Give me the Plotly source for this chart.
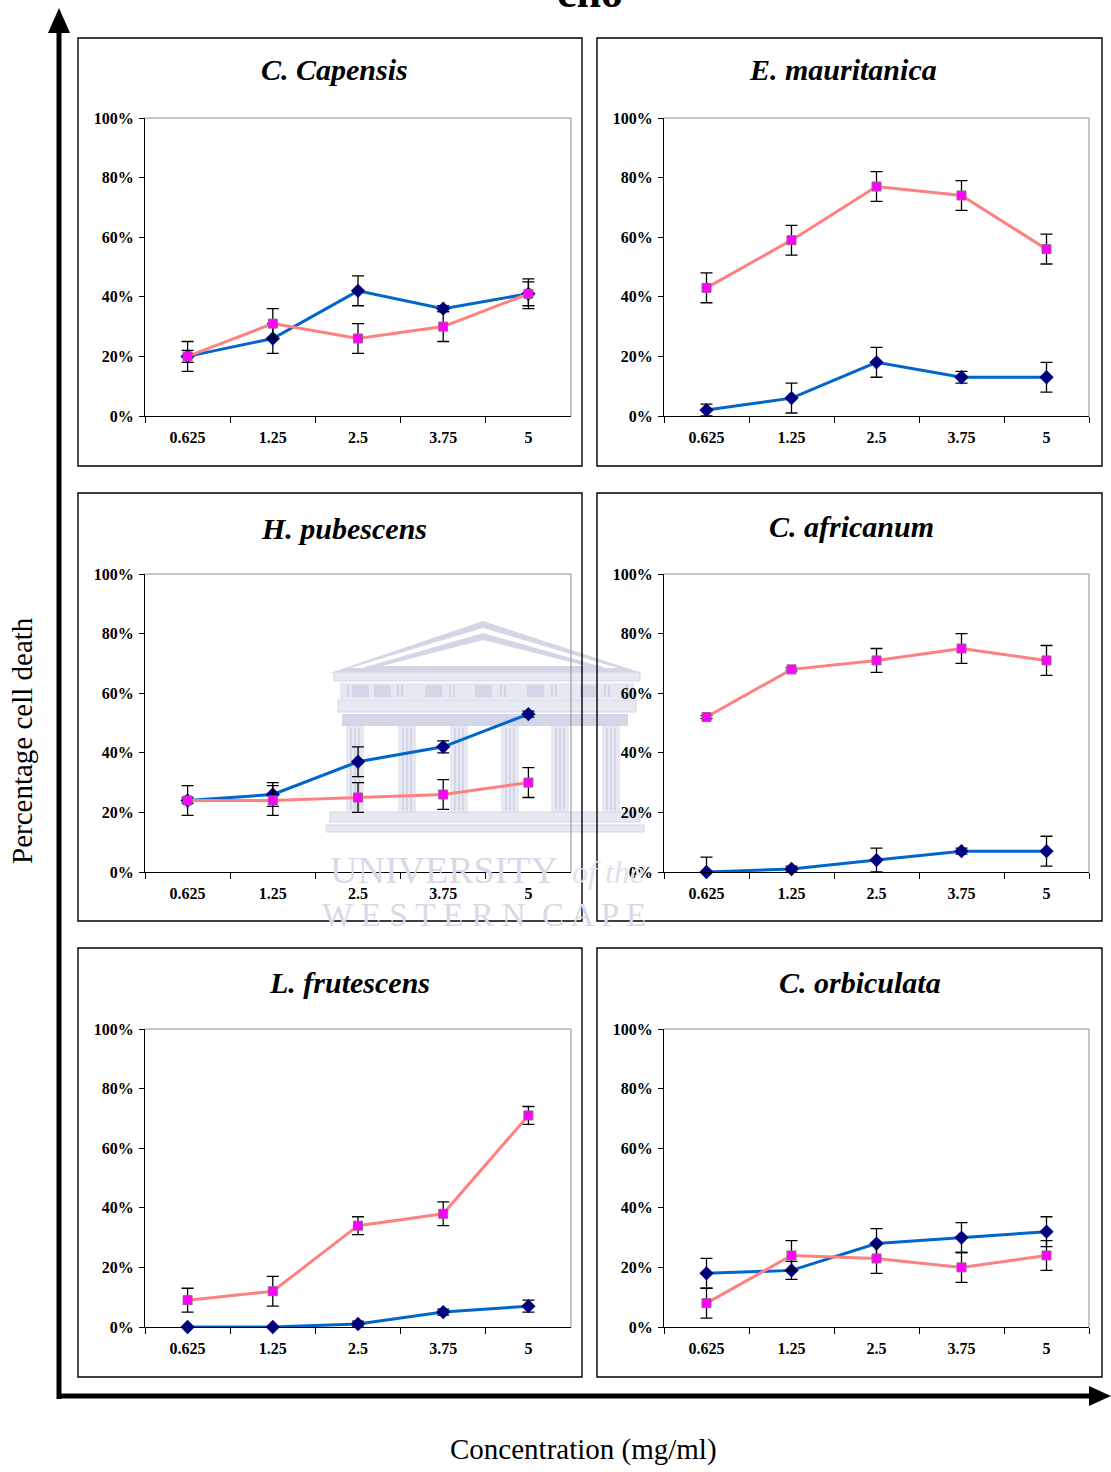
import plotly.graph_objects as go

# ---- data -------------------------------------------------------------
concentrations = ["0.625", "1.25", "2.5", "3.75", "5"]

panel_titles = ["C. Capensis", "E. mauritanica", "H. pubescens",
                "C. africanum", "L. frutescens", "C. orbiculata"]

# blue series (diamonds), % cell death per panel
blue_values = [
    [20, 26, 42, 36, 41],
    [2, 6, 18, 13, 13],
    [24, 26, 37, 42, 53],
    [0, 1, 4, 7, 7],
    [0, 0, 1, 5, 7],
    [18, 19, 28, 30, 32],
]
blue_errors = [
    [2, 5, 5, 1, 4],
    [2, 5, 5, 2, 5],
    [1, 4, 5, 2, 1],
    [5, 1, 4, 1, 5],
    [0, 0, 1, 1, 2],
    [5, 3, 5, 5, 5],
]

# pink series (squares), % cell death per panel
pink_values = [
    [20, 31, 26, 30, 41],
    [43, 59, 77, 74, 56],
    [24, 24, 25, 26, 30],
    [52, 68, 71, 75, 71],
    [9, 12, 34, 38, 71],
    [8, 24, 23, 20, 24],
]
pink_errors = [
    [5, 5, 5, 5, 5],
    [5, 5, 5, 5, 5],
    [5, 5, 5, 5, 5],
    [0.5, 0.5, 4, 5, 5],
    [4, 5, 3, 4, 3],
    [5, 5, 5, 5, 5],
]

y_axis_title = "Percentage cell death"
x_axis_title = "Concentration (mg/ml)"
top_text = "cho"

# ---- geometry (page pixels) ------------------------------------------
W, H = 1111, 1472


def px(x):
    return x / W


def py(y):
    return 1 - y / H


col_plot_x = [(145, 571), (664, 1089)]
row_plot_y = [(118, 416), (574, 872), (1029, 1327)]
col_box_x = [(78, 582), (597, 1102)]
row_box_y = [(38, 466), (493, 921), (948, 1377)]
title_pos = [(334, 70), (843, 70), (344, 528), (851, 526), (349, 982), (860, 982)]

SERIF = "Liberation Serif"
BLUE_LINE = "#0066CC"
NAVY = "#000080"
PINK_LINE = "#FF8080"
MAGENTA = "#FF00FF"

fig = go.Figure()
shapes = []
annotations = []

# ---- faint building watermark (drawn first so everything sits on it) --
WM_DARK = "#D3D6E7"
WM_LIGHT = "#E7E9F2"


def rect(x0, y0, x1, y1, fill, line=None):
    shapes.append(dict(type="rect", xref="paper", yref="paper",
                       x0=px(x0), x1=px(x1), y0=py(y1), y1=py(y0),
                       fillcolor=fill, layer="below",
                       line=dict(width=0 if line is None else 1,
                                 color=line or fill)))


def tri(ax, ay, lx, rx, by, fill):
    path = (f"M {px(lx)} {py(by)} L {px(ax)} {py(ay)} "
            f"L {px(rx)} {py(by)} Z")
    shapes.append(dict(type="path", xref="paper", yref="paper", path=path,
                       fillcolor=fill, layer="below", line=dict(width=0)))


tri(483, 621, 330, 642, 673, WM_DARK)
tri(483, 628, 350, 618, 668, "white")
tri(483, 633, 362, 606, 668, WM_DARK)
tri(483, 640, 382, 586, 666, "white")
rect(334, 672, 640, 681, WM_LIGHT, WM_DARK)
rect(340, 683, 634, 699, WM_LIGHT)
for mx in (352, 374, 425, 475, 527, 580):
    rect(mx, 685, mx + 17, 697, WM_DARK)
for tx in (347, 397, 401, 449, 453, 500, 504, 551, 555, 604, 608, 626):
    rect(tx, 685, tx + 2, 697, WM_DARK)
rect(338, 700, 636, 712, WM_LIGHT, WM_DARK)
rect(342, 714, 628, 726, WM_DARK)
for cx in (355, 407, 459, 510, 560, 611):
    rect(cx - 9, 726, cx + 9, 812, WM_LIGHT)
    for off in (-5, -1, 3):
        rect(cx + off, 728, cx + off + 2, 810, WM_DARK)
rect(330, 812, 640, 822, WM_LIGHT, WM_DARK)
rect(326, 825, 644, 832, WM_LIGHT, WM_DARK)

annotations.append(dict(text="UNIVERSITY", x=px(328), y=py(870), xref="paper",
                        yref="paper", xanchor="left", yanchor="middle",
                        showarrow=False,
                        font=dict(family=SERIF, size=38, color="#D6D9E8")))
annotations.append(dict(text="of the", x=px(570), y=py(872), xref="paper",
                        yref="paper", xanchor="left", yanchor="middle",
                        showarrow=False,
                        font=dict(family=SERIF, size=32, style="italic",
                                  color="#E0E2EE")))
annotations.append(dict(text="W E S T E R N  C A P E", x=px(484), y=py(915),
                        xref="paper", yref="paper", xanchor="center",
                        yanchor="middle", showarrow=False,
                        font=dict(family=SERIF, size=33, color="#D6D9E8")))

# ---- panels ------------------------------------------------------------
for i in range(6):
    r, c = divmod(i, 2)
    n = i + 1
    xa = "x" if n == 1 else f"x{n}"
    ya = "y" if n == 1 else f"y{n}"
    xkey = "xaxis" if n == 1 else f"xaxis{n}"
    ykey = "yaxis" if n == 1 else f"yaxis{n}"

    # error bars cannot drop below the 0% axis
    b_minus = [min(e, v) for e, v in zip(blue_errors[i], blue_values[i])]
    p_minus = [min(e, v) for e, v in zip(pink_errors[i], pink_values[i])]

    fig.add_trace(go.Scatter(
        x=concentrations, y=blue_values[i], xaxis=xa, yaxis=ya,
        mode="lines+markers", showlegend=False, cliponaxis=False,
        line=dict(color=BLUE_LINE, width=3),
        marker=dict(symbol="diamond", size=11, color=NAVY,
                    line=dict(width=0)),
        error_y=dict(type="data", array=blue_errors[i], arrayminus=b_minus,
                     color="black", thickness=1.3, width=6),
    ))
    fig.add_trace(go.Scatter(
        x=concentrations, y=pink_values[i], xaxis=xa, yaxis=ya,
        mode="lines+markers", showlegend=False, cliponaxis=False,
        line=dict(color=PINK_LINE, width=3),
        marker=dict(symbol="square", size=9, color=MAGENTA,
                    line=dict(width=1, color="#A05A8C")),
        error_y=dict(type="data", array=pink_errors[i], arrayminus=p_minus,
                     color="black", thickness=1.3, width=6),
    ))

    x0, x1 = col_plot_x[c]
    y0, y1 = row_plot_y[r]
    fig.layout[xkey] = dict(
        domain=[px(x0), px(x1)], anchor=ya, type="category",
        categoryorder="array", categoryarray=concentrations,
        range=[-0.5, 4.5], tickson="boundaries", ticks="outside",
        ticklen=6, tickcolor="black", showline=True, linecolor="black",
        linewidth=1, showgrid=False, zeroline=False, ticklabelstandoff=7,
        tickfont=dict(family=SERIF, size=16, weight="bold", color="black"),
        fixedrange=True,
    )
    fig.layout[ykey] = dict(
        domain=[py(y1), py(y0)], anchor=xa, range=[0, 100], dtick=20,
        tick0=0, ticksuffix="%", ticks="outside", ticklen=5,
        tickcolor="black", showline=True, linecolor="black", linewidth=1,
        showgrid=False, zeroline=False, ticklabelstandoff=2,
        tickfont=dict(family=SERIF, size=16, weight="bold", color="black"),
        fixedrange=True,
    )

    # grey top and right edges of the plotting area
    shapes.append(dict(type="line", xref=f"{xa} domain", yref=f"{ya} domain",
                       x0=0, x1=1, y0=1, y1=1, layer="below",
                       line=dict(color="#8C8C8C", width=1)))
    shapes.append(dict(type="line", xref=f"{xa} domain", yref=f"{ya} domain",
                       x0=1, x1=1, y0=0, y1=1, layer="below",
                       line=dict(color="#8C8C8C", width=1)))

    # panel frame
    bx0, bx1 = col_box_x[c]
    by0, by1 = row_box_y[r]
    shapes.append(dict(type="rect", xref="paper", yref="paper",
                       x0=px(bx0), x1=px(bx1), y0=py(by1), y1=py(by0),
                       layer="below", line=dict(color="black", width=1.4)))

    tx, ty = title_pos[i]
    annotations.append(dict(text=panel_titles[i], x=px(tx), y=py(ty),
                            xref="paper", yref="paper", xanchor="center",
                            yanchor="middle", showarrow=False,
                            font=dict(family=SERIF, size=30, weight="bold",
                                      style="italic", color="black")))

# ---- outer arrows ----------------------------------------------------
shapes.append(dict(type="line", xref="paper", yref="paper",
                   x0=px(59), x1=px(59), y0=py(1399), y1=py(28),
                   line=dict(color="black", width=5)))
shapes.append(dict(type="path", xref="paper", yref="paper",
                   path=f"M {px(48)} {py(33)} L {px(59)} {py(8)} "
                        f"L {px(70)} {py(33)} Z",
                   fillcolor="black", line=dict(width=0)))
shapes.append(dict(type="line", xref="paper", yref="paper",
                   x0=px(57), x1=px(1092), y0=py(1396), y1=py(1396),
                   line=dict(color="black", width=5)))
shapes.append(dict(type="path", xref="paper", yref="paper",
                   path=f"M {px(1089)} {py(1386)} L {px(1111)} {py(1396)} "
                        f"L {px(1089)} {py(1406)} Z",
                   fillcolor="black", line=dict(width=0)))

# ---- shared axis titles -----------------------------------------------
annotations.append(dict(text=y_axis_title, x=px(22), y=py(741), xref="paper",
                        yref="paper", xanchor="center", yanchor="middle",
                        textangle=-90, showarrow=False,
                        font=dict(family=SERIF, size=29, color="black")))
annotations.append(dict(text=x_axis_title, x=px(583), y=py(1449),
                        xref="paper", yref="paper", xanchor="center",
                        yanchor="middle", showarrow=False,
                        font=dict(family=SERIF, size=29, color="black")))
annotations.append(dict(text=top_text, x=px(590), y=py(19), xref="paper",
                        yref="paper", xanchor="center", yanchor="bottom",
                        showarrow=False,
                        font=dict(family=SERIF, size=44, weight="bold",
                                  color="black")))

fig.update_layout(
    width=W, height=H,
    margin=dict(l=0, r=0, t=0, b=0, autoexpand=False),
    paper_bgcolor="white",
    plot_bgcolor="rgba(0,0,0,0)",
    shapes=shapes,
    annotations=annotations,
    showlegend=False,
)

fig.write_html("out.html", config={"displayModeBar": False})
